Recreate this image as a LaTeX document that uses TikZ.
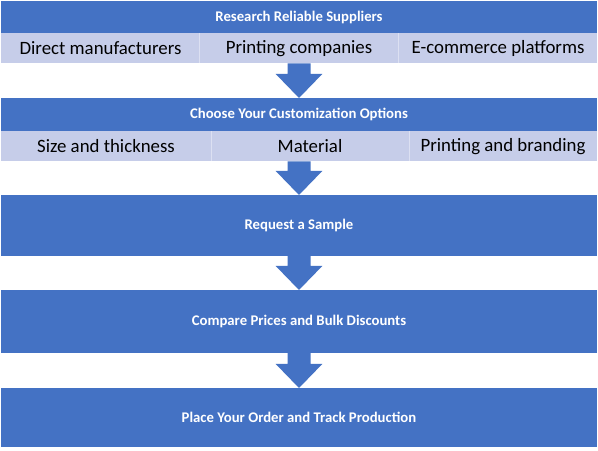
\documentclass[tikz,border=0pt]{standalone}
\usepackage{fontspec}
\setmainfont{Carlito}
\usetikzlibrary{calc}
\definecolor{hdr}{HTML}{4472C4}
\definecolor{subfill}{HTML}{C6CDE9}
\definecolor{divline}{HTML}{DCE0F2}
\tikzset{
  hdrbox/.style={fill=hdr, text=white, font=\fontsize{14.8}{17}\selectfont\bfseries, anchor=north west, inner sep=0pt, outer sep=0pt, minimum width=596bp},
  subrow/.style={fill=subfill, anchor=north west, inner sep=0pt, outer sep=0pt, minimum width=596bp, minimum height=30.5bp},
  celltext/.style={font=\fontsize{18.9}{22}\selectfont, text=black, inner sep=0pt},
  divider/.style={draw=divline, line width=1bp},
  bigarrow/.style={fill=hdr, to path={($(\tikztostart)+(-11.5,0)$) -- ($(\tikztostart)+(11.5,0)$) -- ($(\tikztotarget)+(11.5,24)$) -- ($(\tikztotarget)+(23.3,24)$) -- (\tikztotarget) -- ($(\tikztotarget)+(-23.3,24)$) -- ($(\tikztotarget)+(-11.5,24)$) -- cycle}}
}
\begin{document}
\begin{tikzpicture}[x=1bp,y=1bp]
\useasboundingbox[fill=white] (0,0) rectangle (598,451);
% block 1
\node[hdrbox, minimum height=32bp] (h1) at (1,450) {Research Reliable Suppliers};
\node[subrow] (r1) at (h1.south west) {};
\node[celltext] (c11) at ($(r1.west)+(99.5,0)$) {Direct manufacturers};
\node[celltext] (c12) at ($(r1.west)+(298,0)$) {Printing companies};
\node[celltext] (c13) at ($(r1.west)+(497,0)$) {E-commerce platforms};
\coordinate (d11) at ($(r1.north west)+(198.5,0)$);
\coordinate (d12) at ($(r1.north west)+(397.5,0)$);
\draw[divider] (d11) -- (d11 |- r1.south);
\draw[divider] (d12) -- (d12 |- r1.south);
% block 2
\node[hdrbox, minimum height=33bp] (h2) at (1,353) {Choose Your Customization Options};
\node[subrow] (r2) at (h2.south west) {};
\node[celltext] (c21) at ($(r2.west)+(105,0)$) {Size and thickness};
\node[celltext] (c22) at ($(r2.west)+(309,0)$) {Material};
\node[celltext] (c23) at ($(r2.west)+(502,0)$) {Printing and branding};
\coordinate (d21) at ($(r2.north west)+(210.5,0)$);
\coordinate (d22) at ($(r2.north west)+(408,0)$);
\draw[divider] (d21) -- (d21 |- r2.south);
\draw[divider] (d22) -- (d22 |- r2.south);
% blocks 3-5
\node[hdrbox, minimum height=61bp] (b3) at (1,256) {Request a Sample};
\node[hdrbox, minimum height=63bp] (b4) at (1,161) {Compare Prices and Bulk Discounts};
\node[hdrbox, minimum height=59bp] (b5) at (1,63) {Place Your Order and Track Production};
% arrows
\path[bigarrow] (r1.south) to (h2.north);
\path[bigarrow] (r2.south) to (b3.north);
\path[bigarrow] (b3.south) to (b4.north);
\path[bigarrow] (b4.south) to (b5.north);
\end{tikzpicture}
\end{document}
